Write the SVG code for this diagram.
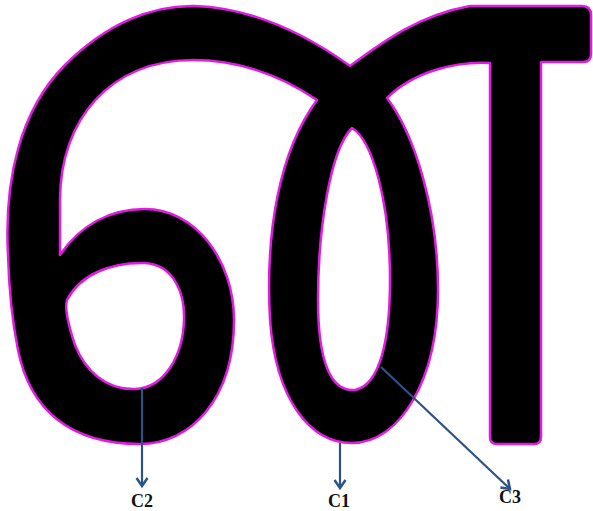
<svg xmlns="http://www.w3.org/2000/svg" width="593" height="511" viewBox="0 0 593 511">
<style>
.lbl{font-family:"Liberation Serif","Times New Roman",serif;font-weight:bold;font-size:18px;fill:#111;text-anchor:middle}
.conn{stroke:#2c5288;stroke-width:2.2;fill:none}
</style>
<defs>
<marker id="ah" markerUnits="userSpaceOnUse" markerWidth="20" markerHeight="20" viewBox="-10 -10 20 20" refX="0" refY="0" orient="auto">
<path d="M -8,-5.5 L 0,0 L -8,5.5" fill="none" stroke="#2c5288" stroke-width="2.5" stroke-linejoin="miter"/>
</marker>
</defs>
<rect width="593" height="511" fill="#fff"/>
<g id="glyph">
<path fill="#000" stroke="#e21be2" stroke-width="2.5" stroke-linejoin="round" fill-rule="evenodd" d="
M 8,255
C 4,180 20,110 65,65
C 105,25 150,5 195,6
C 250,8 300,30 350,66
C 385,40 420,15 470,6
L 582,6 Q 591,6 591,15 L 591,54 Q 591,62 583,62
L 541,62 L 541,437 Q 541,444 534,444 L 497,444 Q 490,444 490,437 L 490,63
C 460,61 415,70 387,98
C 415,135 438,210 438,290
C 438,380 400,443 352,443
C 310,443 276,400 270,320
C 265,230 280,150 317,100
C 280,75 240,60 193,60
C 110,60 60,120 60,200
L 60,255
C 80,225 110,209 145,209
C 195,209 234,260 234,320
C 234,400 190,444 140,444
C 70,444 30,410 18,350
C 12,320 9,290 8,255 Z
M 67,300
C 80,275 110,262 145,263
C 175,265 185,295 184,320
C 183,355 165,388 135,389
C 105,390 85,370 75,345
C 70,330 64,310 67,300 Z
M 352,128
C 372,140 390,200 390,280
C 390,340 380,385 355,390
C 330,392 318,360 318,300
C 318,230 330,150 352,128 Z"/>
</g>
<g id="connectors">
<line class="conn" x1="142" y1="388" x2="142" y2="486" marker-end="url(#ah)"/>
<line class="conn" x1="340" y1="443" x2="340" y2="488" marker-end="url(#ah)"/>
<line class="conn" x1="381" y1="367" x2="510" y2="489" marker-end="url(#ah)"/>
</g>
<g id="C2"><text class="lbl" x="142" y="507">C2</text></g>
<g id="C1"><text class="lbl" x="339" y="507">C1</text></g>
<g id="C3"><text class="lbl" x="510" y="503">C3</text></g>
</svg>
